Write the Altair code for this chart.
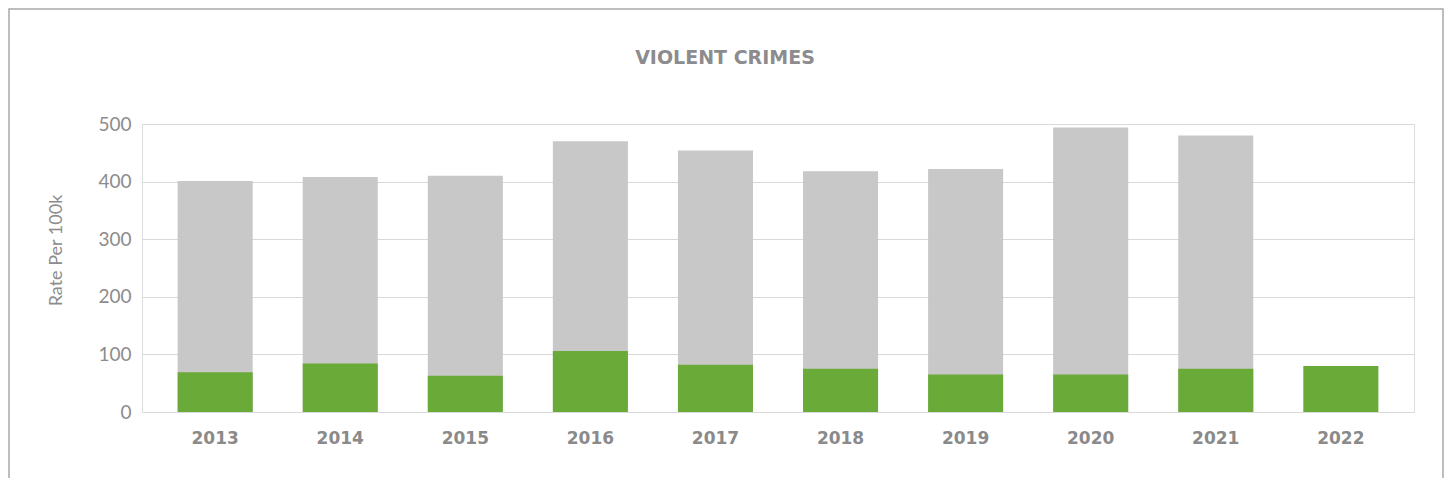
import altair as alt
import pandas as pd

years = ["2013", "2014", "2015", "2016", "2017", "2018", "2019", "2020", "2021", "2022"]
total_rate = [401, 408, 410, 470, 454, 418, 422, 494, 480, None]
green_rate = [69, 84, 63, 106, 82, 75, 65, 65, 75, 80]
y_ticks = [0, 100, 200, 300, 400, 500]

df = pd.DataFrame({"year": years, "total": total_rate, "green": green_rate})
df_total = df.dropna(subset=["total"])

W, H = 1272, 288

x_enc = alt.X(
    "year:N",
    sort=years,
    scale=alt.Scale(paddingInner=0.4, paddingOuter=0.285),
    axis=alt.Axis(
        title=None, labelAngle=0, domain=False, ticks=False,
        labelFont="DejaVu Sans", labelFontWeight="bold", labelFontSize=17,
        labelColor="#8a8a8a", labelPadding=18,
    ),
)

y_axis = alt.Axis(
    values=y_ticks, grid=True, gridColor="#d9d9d9", gridWidth=1.2,
    domain=False, ticks=False, labelPadding=11,
    labelFont="Lato", labelFontWeight="normal", labelFontSize=19, labelColor="#8c8c8c",
    title="Rate Per 100k", titleFont="Lato", titleFontSize=18,
    titleFontWeight="normal", titleColor="#8c8c8c",
    titleAngle=270, titleX=-86, titleY=126,
    titleAlign="center", titleBaseline="middle",
)

gray = alt.Chart(df_total).mark_bar(color="#c8c8c8").encode(
    x=x_enc,
    y=alt.Y("total:Q", scale=alt.Scale(domain=[0, 500], nice=False), axis=y_axis),
)

green = alt.Chart(df).mark_bar(color="#6aaa38").encode(
    x=x_enc,
    y=alt.Y("green:Q"),
)

border = alt.Chart(pd.DataFrame({"a": [0]})).mark_rect(
    filled=False, stroke="#a8a8a8", strokeWidth=1.5
).encode(
    x=alt.value(-133), x2=alt.value(1301),
    y=alt.value(-115), y2=alt.value(420),
)

chart = alt.layer(gray, green, border).properties(
    width=W, height=H,
    title=alt.TitleParams(
        "VIOLENT CRIMES", font="DejaVu Sans", fontSize=19, fontWeight="bold",
        color="#8c8c8e", anchor="middle", frame="group", dx=-53, offset=-75,
        baseline="alphabetic",
    ),
    autosize=alt.AutoSizeParams(type="none"),
    padding={"left": 134, "top": 116, "right": 30, "bottom": 66},
).configure_view(stroke=None).configure(background="white")

chart.save("out.html", embed_options={"renderer": "svg", "actions": False})
